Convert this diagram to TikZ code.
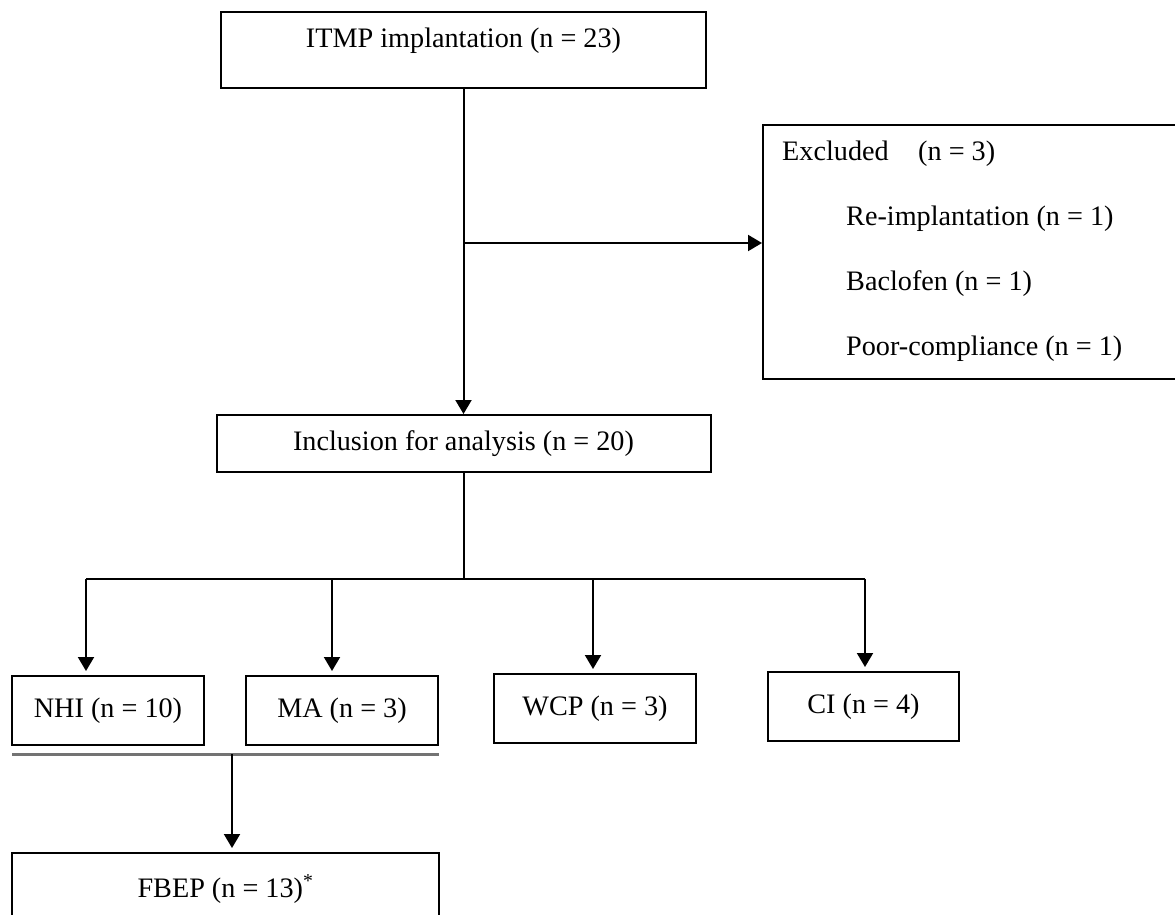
\documentclass[tikz,border=0pt]{standalone}
\usepackage{fontspec}
\setmainfont{Liberation Serif}
\usetikzlibrary{arrows.meta}
\newcommand\fsz{\fontsize{28.2}{34}\selectfont}
\begin{document}
\begin{tikzpicture}[x=1pt,y=-1pt,
  box/.style={draw, line width=2pt, inner sep=0pt, font=\fsz, text height=20pt, text depth=6pt},
  txt/.style={inner sep=0pt, font=\fsz},
  ln/.style={line width=2pt},
  arr/.style={line width=2pt, -{Triangle[length=14pt,width=16pt]}},
  sarr/.style={arr, shorten >=4pt},
  sep/.style={line width=3pt, black!55}]
\clip (0,0) rectangle (1175,914);
\fill[white] (0,0) rectangle (1175,914);

% boxes
\node[box, minimum width=485pt, minimum height=76pt, text depth=26pt] (itmp) at (463.5,50) {ITMP implantation (n = 23)};
\node[box, minimum width=494pt, minimum height=57pt] (incl) at (463.5,443.5) {Inclusion for analysis (n = 20)};
\node[box, minimum width=417pt, minimum height=254pt] (excl) at (971.5,252) {};
\node[txt, anchor=base west] (exh) at (782,160) {Excluded};
\node[txt, anchor=base west] (exn) at (918,160) {(n = 3)};
\node[txt, anchor=base west] (re) at (846,225) {Re-implantation (n = 1)};
\node[txt, anchor=base west] (bac) at (846,290) {Baclofen (n = 1)};
\node[txt, anchor=base west] (poor) at (846,355) {Poor-compliance (n = 1)};

\node[box, minimum width=192pt, minimum height=69pt] (nhi) at (108,710.5) {NHI (n = 10)};
\node[box, minimum width=192pt, minimum height=69pt] (ma) at (342,710.5) {MA (n = 3)};
\node[box, minimum width=202pt, minimum height=69pt] (wcp) at (595,708.5) {WCP (n = 3)};
\node[box, minimum width=191pt, minimum height=69pt] (ci) at (863.5,706.5) {CI (n = 4)};
\node[box, minimum width=427pt, minimum height=74pt] (fbep) at (225.5,890) {FBEP (n = 13)\textsuperscript{*}};

% connectors
\coordinate (j1) at (463.5,243);
\draw[arr] (itmp.south) -- (itmp.south |- incl.north);
\draw[arr] (j1) -- (j1 -| excl.west);

\coordinate (b1) at (86,578.5);
\coordinate (b2) at (332,578.5);
\coordinate (b3) at (593,578.5);
\coordinate (b4) at (865,578.5);
\draw[ln] (incl.south) -- (incl.south |- b1);
\draw[ln] (b1) -- (b4);
\draw[sarr] (b1) -- (b1 |- nhi.north);
\draw[sarr] (b2) -- (b2 |- ma.north);
\draw[sarr] (b3) -- (b3 |- wcp.north);
\draw[sarr] (b4) -- (b4 |- ci.north);

\coordinate (u1) at (12,754);
\coordinate (u2) at (439,754);
\coordinate (u3) at (232,754);
\draw[sep] (u1) -- (u2);
\draw[sarr] (u3) -- (u3 |- fbep.north);
\end{tikzpicture}
\end{document}
